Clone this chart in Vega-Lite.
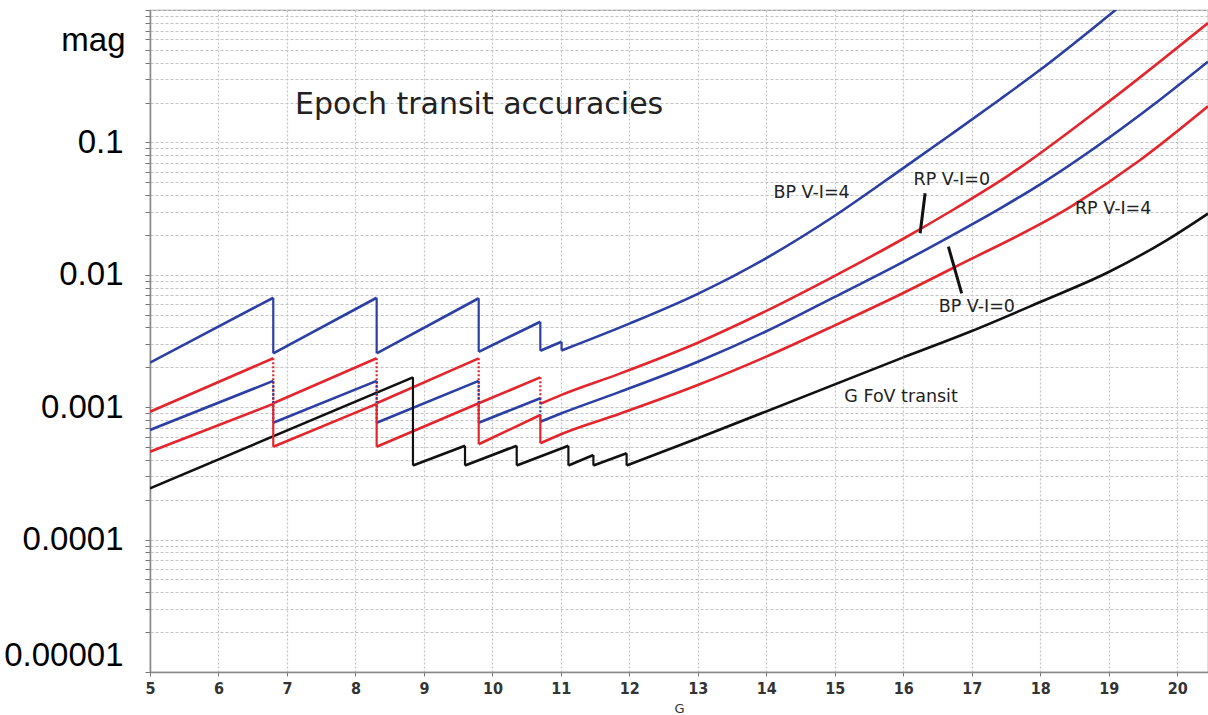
{
  "$schema": "https://vega.github.io/schema/vega-lite/v6.json",
  "width": 1058,
  "height": 662,
  "autosize": {"type": "none"},
  "padding": {"left": 150, "top": 10, "right": 0, "bottom": 43},
  "background": "white",
  "config": {"view": {"stroke": "#999", "strokeWidth": 1.2}},
  "datasets": {
    "curves": [
      {"s": "BP V-I=4", "k": 1, "G": 5.0, "v": 0.00217},
      {"s": "BP V-I=4", "k": 1, "G": 6.80, "v": 0.00671},
      {"s": "BP V-I=4", "k": 2, "G": 6.80, "v": 0.00255},
      {"s": "BP V-I=4", "k": 2, "G": 8.31, "v": 0.00671},
      {"s": "BP V-I=4", "k": 3, "G": 8.31, "v": 0.00255},
      {"s": "BP V-I=4", "k": 3, "G": 9.80, "v": 0.00665},
      {"s": "BP V-I=4", "k": 4, "G": 9.80, "v": 0.00262},
      {"s": "BP V-I=4", "k": 4, "G": 10.70, "v": 0.00442},
      {"s": "BP V-I=4", "k": 5, "G": 10.70, "v": 0.00267},
      {"s": "BP V-I=4", "k": 5, "G": 11.01, "v": 0.00312},
      {"s": "BP V-I=4", "k": 6, "G": 11.01, "v": 0.00268},
      {"s": "BP V-I=4", "k": 6, "G": 12.0, "v": 0.004276},
      {"s": "BP V-I=4", "k": 6, "G": 13.0, "v": 0.007178},
      {"s": "BP V-I=4", "k": 6, "G": 14.0, "v": 0.01337},
      {"s": "BP V-I=4", "k": 6, "G": 15.0, "v": 0.02793},
      {"s": "BP V-I=4", "k": 6, "G": 16.0, "v": 0.06397},
      {"s": "BP V-I=4", "k": 6, "G": 16.68, "v": 0.1133},
      {"s": "BP V-I=4", "k": 6, "G": 17.41, "v": 0.2110},
      {"s": "BP V-I=4", "k": 6, "G": 18.0, "v": 0.3535},
      {"s": "BP V-I=4", "k": 6, "G": 19.05, "v": 0.9528},
      {"s": "BP V-I=4", "k": 6, "G": 19.5, "v": 1.472},

      {"s": "RP V-I=0", "k": 1, "G": 5.0, "v": 0.000925},
      {"s": "RP V-I=0", "k": 1, "G": 6.80, "v": 0.00234},
      {"s": "RP V-I=0", "k": 2, "G": 6.80, "v": 0.00107},
      {"s": "RP V-I=0", "k": 2, "G": 8.31, "v": 0.00234},
      {"s": "RP V-I=0", "k": 3, "G": 8.31, "v": 0.00107},
      {"s": "RP V-I=0", "k": 3, "G": 9.80, "v": 0.00234},
      {"s": "RP V-I=0", "k": 4, "G": 9.80, "v": 0.00107},
      {"s": "RP V-I=0", "k": 4, "G": 10.70, "v": 0.00168},
      {"s": "RP V-I=0", "k": 5, "G": 10.70, "v": 0.00106},
      {"s": "RP V-I=0", "k": 5, "G": 11.01, "v": 0.00124},
      {"s": "RP V-I=0", "k": 5, "G": 11.86, "v": 0.001793},
      {"s": "RP V-I=0", "k": 5, "G": 13.0, "v": 0.003070},
      {"s": "RP V-I=0", "k": 5, "G": 14.0, "v": 0.005336},
      {"s": "RP V-I=0", "k": 5, "G": 15.0, "v": 0.009822},
      {"s": "RP V-I=0", "k": 5, "G": 16.0, "v": 0.01872},
      {"s": "RP V-I=0", "k": 5, "G": 16.68, "v": 0.02994},
      {"s": "RP V-I=0", "k": 5, "G": 17.51, "v": 0.05517},
      {"s": "RP V-I=0", "k": 5, "G": 19.02, "v": 0.2068},
      {"s": "RP V-I=0", "k": 5, "G": 20.45, "v": 0.7978},

      {"s": "BP V-I=0", "k": 1, "G": 5.0, "v": 0.000673},
      {"s": "BP V-I=0", "k": 1, "G": 6.80, "v": 0.00158},
      {"s": "BP V-I=0", "k": 2, "G": 6.80, "v": 0.000764},
      {"s": "BP V-I=0", "k": 2, "G": 8.31, "v": 0.00158},
      {"s": "BP V-I=0", "k": 3, "G": 8.31, "v": 0.000764},
      {"s": "BP V-I=0", "k": 3, "G": 9.80, "v": 0.00158},
      {"s": "BP V-I=0", "k": 4, "G": 9.80, "v": 0.000764},
      {"s": "BP V-I=0", "k": 4, "G": 10.70, "v": 0.00117},
      {"s": "BP V-I=0", "k": 5, "G": 10.70, "v": 0.000777},
      {"s": "BP V-I=0", "k": 5, "G": 11.01, "v": 0.0009},
      {"s": "BP V-I=0", "k": 5, "G": 11.86, "v": 0.001305},
      {"s": "BP V-I=0", "k": 5, "G": 13.0, "v": 0.002206},
      {"s": "BP V-I=0", "k": 5, "G": 14.0, "v": 0.003745},
      {"s": "BP V-I=0", "k": 5, "G": 15.0, "v": 0.006816},
      {"s": "BP V-I=0", "k": 5, "G": 16.0, "v": 0.01254},
      {"s": "BP V-I=0", "k": 5, "G": 16.7, "v": 0.01970},
      {"s": "BP V-I=0", "k": 5, "G": 17.41, "v": 0.03164},
      {"s": "BP V-I=0", "k": 5, "G": 18.0, "v": 0.04824},
      {"s": "BP V-I=0", "k": 5, "G": 19.73, "v": 0.2064},
      {"s": "BP V-I=0", "k": 5, "G": 20.45, "v": 0.407},

      {"s": "RP V-I=4", "k": 1, "G": 5.0, "v": 0.000461},
      {"s": "RP V-I=4", "k": 1, "G": 6.80, "v": 0.00106},
      {"s": "RP V-I=4", "k": 2, "G": 6.80, "v": 0.000503},
      {"s": "RP V-I=4", "k": 2, "G": 8.31, "v": 0.00106},
      {"s": "RP V-I=4", "k": 3, "G": 8.31, "v": 0.000503},
      {"s": "RP V-I=4", "k": 3, "G": 9.80, "v": 0.00107},
      {"s": "RP V-I=4", "k": 4, "G": 9.80, "v": 0.000525},
      {"s": "RP V-I=4", "k": 4, "G": 10.70, "v": 0.000873},
      {"s": "RP V-I=4", "k": 5, "G": 10.70, "v": 0.000534},
      {"s": "RP V-I=4", "k": 5, "G": 11.01, "v": 0.000628},
      {"s": "RP V-I=4", "k": 5, "G": 11.86, "v": 0.000893},
      {"s": "RP V-I=4", "k": 5, "G": 13.0, "v": 0.00147},
      {"s": "RP V-I=4", "k": 5, "G": 14.0, "v": 0.00241},
      {"s": "RP V-I=4", "k": 5, "G": 15.0, "v": 0.00415},
      {"s": "RP V-I=4", "k": 5, "G": 16.0, "v": 0.00729},
      {"s": "RP V-I=4", "k": 5, "G": 16.73, "v": 0.01128},
      {"s": "RP V-I=4", "k": 5, "G": 18.49, "v": 0.0337},
      {"s": "RP V-I=4", "k": 5, "G": 19.46, "v": 0.0737},
      {"s": "RP V-I=4", "k": 5, "G": 20.45, "v": 0.1875},

      {"s": "G FoV transit", "k": 1, "G": 5.0, "v": 0.000244},
      {"s": "G FoV transit", "k": 1, "G": 8.84, "v": 0.00168},
      {"s": "G FoV transit", "k": 2, "G": 8.84, "v": 0.000363},
      {"s": "G FoV transit", "k": 2, "G": 9.60, "v": 0.000512},
      {"s": "G FoV transit", "k": 3, "G": 9.60, "v": 0.000363},
      {"s": "G FoV transit", "k": 3, "G": 10.355, "v": 0.000512},
      {"s": "G FoV transit", "k": 4, "G": 10.355, "v": 0.000363},
      {"s": "G FoV transit", "k": 4, "G": 11.11, "v": 0.000512},
      {"s": "G FoV transit", "k": 5, "G": 11.11, "v": 0.000363},
      {"s": "G FoV transit", "k": 5, "G": 11.475, "v": 0.000435},
      {"s": "G FoV transit", "k": 6, "G": 11.475, "v": 0.000363},
      {"s": "G FoV transit", "k": 6, "G": 11.96, "v": 0.000449},
      {"s": "G FoV transit", "k": 7, "G": 11.96, "v": 0.000363},
      {"s": "G FoV transit", "k": 7, "G": 13.0, "v": 0.000582},
      {"s": "G FoV transit", "k": 8, "G": 13.0, "v": 0.000582},
      {"s": "G FoV transit", "k": 8, "G": 16.0, "v": 0.00238},
      {"s": "G FoV transit", "k": 9, "G": 16.0, "v": 0.00238},
      {"s": "G FoV transit", "k": 9, "G": 17.0, "v": 0.00376},
      {"s": "G FoV transit", "k": 9, "G": 18.0, "v": 0.00623},
      {"s": "G FoV transit", "k": 9, "G": 19.0, "v": 0.0105},
      {"s": "G FoV transit", "k": 9, "G": 19.85, "v": 0.0183},
      {"s": "G FoV transit", "k": 9, "G": 20.45, "v": 0.029}
    ],
    "drops": [
      {"s": "BP V-I=4", "dash": "solid", "G": 6.80, "v": 0.00671, "v2": 0.00255},
      {"s": "BP V-I=4", "dash": "solid", "G": 8.31, "v": 0.00671, "v2": 0.00255},
      {"s": "BP V-I=4", "dash": "solid", "G": 9.80, "v": 0.00665, "v2": 0.00262},
      {"s": "BP V-I=4", "dash": "solid", "G": 10.70, "v": 0.00442, "v2": 0.00267},
      {"s": "BP V-I=4", "dash": "solid", "G": 11.01, "v": 0.00312, "v2": 0.00268},
      {"s": "RP V-I=0", "dash": "dotted", "G": 6.80, "v": 0.00234, "v2": 0.00107},
      {"s": "RP V-I=0", "dash": "dotted", "G": 8.31, "v": 0.00234, "v2": 0.00107},
      {"s": "RP V-I=0", "dash": "dotted", "G": 9.80, "v": 0.00234, "v2": 0.00107},
      {"s": "RP V-I=0", "dash": "dotted", "G": 10.70, "v": 0.00168, "v2": 0.00106},
      {"s": "BP V-I=0", "dash": "dotted", "G": 6.80, "v": 0.00158, "v2": 0.000764},
      {"s": "BP V-I=0", "dash": "dotted", "G": 8.31, "v": 0.00158, "v2": 0.000764},
      {"s": "BP V-I=0", "dash": "dotted", "G": 9.80, "v": 0.00158, "v2": 0.000764},
      {"s": "BP V-I=0", "dash": "dotted", "G": 10.70, "v": 0.00117, "v2": 0.000777},
      {"s": "RP V-I=4", "dash": "solid", "G": 6.80, "v": 0.00106, "v2": 0.000503},
      {"s": "RP V-I=4", "dash": "solid", "G": 8.31, "v": 0.00106, "v2": 0.000503},
      {"s": "RP V-I=4", "dash": "solid", "G": 9.80, "v": 0.00107, "v2": 0.000525},
      {"s": "RP V-I=4", "dash": "solid", "G": 10.70, "v": 0.000873, "v2": 0.000534},
      {"s": "G FoV transit", "dash": "solid", "G": 8.84, "v": 0.00168, "v2": 0.000363},
      {"s": "G FoV transit", "dash": "solid", "G": 9.60, "v": 0.000512, "v2": 0.000363},
      {"s": "G FoV transit", "dash": "solid", "G": 10.355, "v": 0.000512, "v2": 0.000363},
      {"s": "G FoV transit", "dash": "solid", "G": 11.11, "v": 0.000512, "v2": 0.000363},
      {"s": "G FoV transit", "dash": "solid", "G": 11.475, "v": 0.000435, "v2": 0.000363},
      {"s": "G FoV transit", "dash": "solid", "G": 11.96, "v": 0.000449, "v2": 0.000363}
    ],
    "leaders": [
      {"G": 16.319, "v": 0.0413, "G2": 16.246, "v2": 0.0206},
      {"G": 16.659, "v": 0.0163, "G2": 16.853, "v2": 0.00725}
    ],
    "labels": [
      {"t": "BP V-I=4", "G": 14.661, "v": 0.0415},
      {"t": "RP V-I=0", "G": 16.709, "v": 0.0520},
      {"t": "RP V-I=4", "G": 19.065, "v": 0.0314},
      {"t": "BP V-I=0", "G": 17.074, "v": 0.00576},
      {"t": "G FoV transit", "G": 15.968, "v": 0.00119}
    ],
    "heading": [
      {"t": "Epoch transit accuracies", "G": 7.118, "v": 0.1916}
    ]
  },
  "encoding": {
    "x": {
      "field": "G",
      "type": "quantitative",
      "scale": {"domain": [5, 20.45], "nice": false, "zero": false},
      "axis": {
        "values": [5, 6, 7, 8, 9, 10, 11, 12, 13, 14, 15, 16, 17, 18, 19, 20],
        "format": "d",
        "title": "G",
        "titleFont": "DejaVu Sans",
        "titleFontSize": 13,
        "titleFontWeight": "normal",
        "titleColor": "#333",
        "titlePadding": 6,
        "labelFont": "DejaVu Sans Condensed",
        "labelFontWeight": "bold",
        "labelFontSize": 16,
        "labelColor": "#333",
        "labelPadding": 4,
        "labelFlush": false,
        "grid": true,
        "gridColor": "#c4c4c4",
        "gridDash": [2, 2],
        "gridWidth": 1.2,
        "tickSize": 4,
        "tickColor": "#777",
        "domainColor": "#888",
        "domainWidth": 1.5
      }
    },
    "y": {
      "field": "v",
      "type": "quantitative",
      "scale": {"type": "log", "domain": [0.00001, 1], "nice": false},
      "axis": {
        "values": [0.00001, 0.00002, 0.00003, 0.00004, 0.00005, 0.00006, 0.00007, 0.00008, 0.00009,
                   0.0001, 0.0002, 0.0003, 0.0004, 0.0005, 0.0006, 0.0007, 0.0008, 0.0009,
                   0.001, 0.002, 0.003, 0.004, 0.005, 0.006, 0.007, 0.008, 0.009,
                   0.01, 0.02, 0.03, 0.04, 0.05, 0.06, 0.07, 0.08, 0.09,
                   0.1, 0.2, 0.3, 0.4, 0.5, 0.6, 0.7, 0.8, 0.9, 1],
        "labelExpr": "indexof([0.1, 0.01, 0.001, 0.0001, 0.00001], datum.value) >= 0 ? toString(datum.value) : ''",
        "labelFont": "Liberation Sans",
        "labelFontSize": 33,
        "labelColor": "#000",
        "labelPadding": 22,
        "labelFlush": true,
        "labelOverlap": false,
        "labelBound": false,
        "title": "mag",
        "titleAngle": 0,
        "titleAlign": "right",
        "titleBaseline": "alphabetic",
        "titleX": -25,
        "titleY": 40,
        "titleFont": "Liberation Sans",
        "titleFontSize": 33,
        "titleFontWeight": "normal",
        "titleColor": "#000",
        "grid": true,
        "gridColor": "#c4c4c4",
        "gridDash": [3, 2],
        "gridWidth": 1.2,
        "tickSize": 5,
        "tickColor": "#777",
        "domainColor": "#888",
        "domainWidth": 1.5
      }
    }
  },
  "layer": [
    {
      "data": {"name": "curves"},
      "mark": {"type": "line", "strokeWidth": 2.6, "clip": true, "interpolate": "monotone"},
      "encoding": {
        "color": {
          "field": "s",
          "type": "nominal",
          "scale": {
            "domain": ["BP V-I=4", "RP V-I=0", "BP V-I=0", "RP V-I=4", "G FoV transit"],
            "range": ["#2c3fa3", "#e3262d", "#2c3fa3", "#e3262d", "#111111"]
          },
          "legend": null
        },
        "detail": {"field": "k", "type": "nominal"}
      }
    },
    {
      "data": {"name": "drops"},
      "mark": {"type": "rule", "strokeWidth": 2.2},
      "encoding": {
        "y2": {"field": "v2"},
        "color": {"field": "s", "type": "nominal", "legend": null},
        "strokeDash": {
          "field": "dash",
          "type": "nominal",
          "scale": {"domain": ["solid", "dotted"], "range": [[1, 0], [2, 2]]},
          "legend": null
        }
      }
    },
    {
      "data": {"name": "leaders"},
      "mark": {"type": "rule", "strokeWidth": 3, "color": "#111"},
      "encoding": {
        "x2": {"field": "G2"},
        "y2": {"field": "v2"}
      }
    },
    {
      "data": {"name": "labels"},
      "mark": {"type": "text", "font": "DejaVu Sans", "fontSize": 17.5, "color": "#222", "align": "center", "baseline": "middle"},
      "encoding": {"text": {"field": "t", "type": "nominal"}}
    },
    {
      "data": {"name": "heading"},
      "mark": {"type": "text", "font": "DejaVu Sans", "fontSize": 30, "color": "#222", "align": "left", "baseline": "middle"},
      "encoding": {"text": {"field": "t", "type": "nominal"}}
    }
  ]
}
